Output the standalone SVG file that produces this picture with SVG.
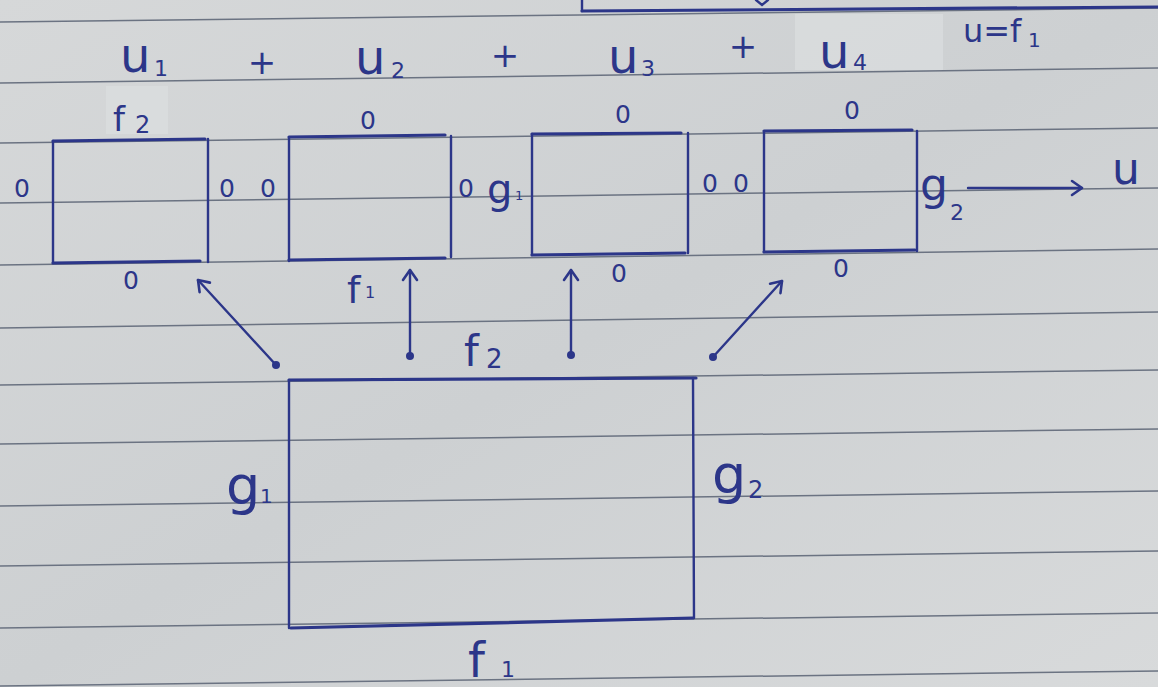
<svg xmlns="http://www.w3.org/2000/svg" width="1158" height="687" viewBox="0 0 1158 687">
  <defs>
    <linearGradient id="paper" x1="0" y1="0" x2="1" y2="1">
      <stop offset="0" stop-color="#d6d8d9"/>
      <stop offset="0.5" stop-color="#cdd0d2"/>
      <stop offset="1" stop-color="#d8dadb"/>
    </linearGradient>
    <marker id="chev" markerWidth="20" markerHeight="20" refX="12" refY="10" orient="auto" markerUnits="userSpaceOnUse">
      <path d="M2,3 L12,10 L2,17" fill="none" stroke="#2c3689" stroke-width="2.6" stroke-linecap="round" stroke-linejoin="round"/>
    </marker>
    <style>
      .rule { stroke: #6b7382; stroke-width: 1.5; fill: none; }
      .ink { stroke: #2c3689; stroke-width: 2.4; fill: none; stroke-linecap: round; }
      .edge { stroke: #2c3689; stroke-width: 3.2; fill: none; stroke-linecap: round; }
      .t { font-family: "DejaVu Sans", "Liberation Sans", sans-serif; fill: #2c3689; }
      .z { font-size: 25px; text-anchor: middle; }
      .u { font-size: 48px; }
      .sub { font-size: 22px; }
      .plus { font-size: 34px; text-anchor: middle; }
      .dot { fill: #2c3689; }
    </style>
  </defs>

  <!-- sheet of ruled paper -->
  <rect x="0" y="0" width="1158" height="687" fill="url(#paper)"/>
  <rect x="106" y="86" width="62" height="48" fill="#dcdedf" opacity="0.7"/>
  <rect x="795" y="14" width="148" height="56" fill="#dcdedf" opacity="0.7"/>
  <g id="ruling">
    <line class="rule" x1="0" y1="22" x2="580" y2="15" stroke-width="2.4"/>
    <line class="rule" x1="580" y1="15" x2="1158" y2="8"/>
    <line class="rule" x1="0" y1="83" x2="1158" y2="68"/>
    <line class="rule" x1="0" y1="143" x2="1158" y2="128"/>
    <line class="rule" x1="0" y1="203" x2="1158" y2="188"/>
    <line class="rule" x1="0" y1="265" x2="1158" y2="249"/>
    <line class="rule" x1="0" y1="328" x2="1158" y2="312"/>
    <line class="rule" x1="0" y1="385" x2="1158" y2="370"/>
    <line class="rule" x1="0" y1="444" x2="1158" y2="429"/>
    <line class="rule" x1="0" y1="506" x2="1158" y2="491"/>
    <line class="rule" x1="0" y1="566" x2="1158" y2="551"/>
    <line class="rule" x1="0" y1="628" x2="1158" y2="613"/>
    <line class="rule" x1="0" y1="686" x2="1158" y2="671"/>
  </g>

  <!-- strokes left over at the top edge -->
  <g id="top-edge">
    <line class="edge" x1="582" y1="11" x2="1158" y2="7"/>
    <line class="ink" x1="582" y1="0" x2="582" y2="11"/>
    <path class="ink" d="M756,0 L762,5 L768,0"/>
  </g>

  <!-- sum u = u1 + u2 + u3 + u4 -->
  <g id="sum">
    <text class="t u" x="120" y="72">u</text><text class="t sub" x="154" y="76">1</text>
    <text class="t plus" x="262" y="74">+</text>
    <text class="t u" x="355" y="74">u</text><text class="t sub" x="391" y="78">2</text>
    <text class="t plus" x="505" y="67">+</text>
    <text class="t u" x="608" y="73">u</text><text class="t sub" x="641" y="76">3</text>
    <text class="t plus" x="743" y="58">+</text>
    <text class="t u" x="819" y="68">u</text><text class="t sub" x="853" y="70">4</text>
    <text class="t" x="963" y="42" font-size="32">u=f</text><text class="t" x="1028" y="47" font-size="20">1</text>
  </g>

  <!-- four subproblem boxes -->
  <g id="box-u1">
    <path class="ink" d="M53,141 L53,263 M208,139 L208,262"/>
    <line class="edge" x1="53" y1="141" x2="205" y2="139"/>
    <line class="edge" x1="53" y1="263" x2="200" y2="261"/>
    <text class="t" x="113" y="131" font-size="34">f</text><text class="t" x="135" y="133" font-size="24">2</text>
    <text class="t z" x="22" y="197">0</text>
    <text class="t z" x="227" y="197">0</text>
    <text class="t z" x="131" y="289">0</text>
  </g>
  <g id="box-u2">
    <path class="ink" d="M289,138 L289,261 M451,136 L451,257"/>
    <line class="edge" x1="289" y1="137" x2="445" y2="135"/>
    <line class="edge" x1="289" y1="260" x2="445" y2="258"/>
    <text class="t z" x="368" y="129">0</text>
    <text class="t z" x="268" y="197">0</text>
    <text class="t z" x="466" y="197">0</text>
  </g>
  <g id="box-u3">
    <path class="ink" d="M532,134 L532,255 M688,133 L688,253"/>
    <line class="edge" x1="532" y1="134" x2="681" y2="133"/>
    <line class="edge" x1="532" y1="255" x2="685" y2="253"/>
    <text class="t" x="487" y="203" font-size="40">g</text><text class="t" x="515" y="200" font-size="13">1</text>
    <text class="t z" x="623" y="123">0</text>
    <text class="t z" x="710" y="192">0</text>
    <text class="t z" x="619" y="282">0</text>
  </g>
  <g id="box-u4">
    <path class="ink" d="M764,132 L764,252 M917,131 L917,251"/>
    <line class="edge" x1="764" y1="131" x2="912" y2="130"/>
    <line class="edge" x1="764" y1="252" x2="915" y2="250"/>
    <text class="t z" x="852" y="119">0</text>
    <text class="t z" x="741" y="192">0</text>
    <text class="t" x="920" y="200" font-size="44">g</text><text class="t" x="950" y="220" font-size="22">2</text>
    <text class="t z" x="841" y="277">0</text>
  </g>

  <!-- full problem -->
  <g id="box-full">
    <path class="ink" d="M289,380 L289,628 M693,378 L694,618"/>
    <line class="edge" x1="289" y1="380" x2="696" y2="378"/>
    <line class="edge" x1="291" y1="628" x2="693" y2="618"/>
    <text class="t" x="226" y="504" font-size="54">g</text><text class="t" x="260" y="503" font-size="20">1</text>
    <text class="t" x="712" y="493" font-size="54">g</text><text class="t" x="748" y="498" font-size="24">2</text>
    <text class="t" x="468" y="677" font-size="48">f</text><text class="t" x="501" y="677" font-size="22">1</text>
  </g>

  <g id="output-u">
    <text class="t" x="1112" y="184" font-size="44">u</text>
  </g>

  <!-- arrows from the full problem to each piece, and out to u -->
  <g id="connectors">
    <line class="ink" x1="276" y1="365" x2="198" y2="280" marker-end="url(#chev)"/>
    <circle class="dot" cx="276" cy="365" r="4"/>
    <line class="ink" x1="410" y1="356" x2="410" y2="270" marker-end="url(#chev)"/>
    <circle class="dot" cx="410" cy="356" r="4"/>
    <line class="ink" x1="571" y1="355" x2="571" y2="270" marker-end="url(#chev)"/>
    <circle class="dot" cx="571" cy="355" r="4"/>
    <line class="ink" x1="713" y1="357" x2="782" y2="281" marker-end="url(#chev)"/>
    <circle class="dot" cx="713" cy="357" r="4"/>
    <line class="ink" x1="968" y1="188" x2="1082" y2="188" marker-end="url(#chev)"/>
    <text class="t" x="347" y="303" font-size="38">f</text><text class="t" x="365" y="298" font-size="16">1</text>
    <text class="t" x="464" y="366" font-size="42">f</text><text class="t" x="486" y="368" font-size="26">2</text>
  </g>
</svg>
